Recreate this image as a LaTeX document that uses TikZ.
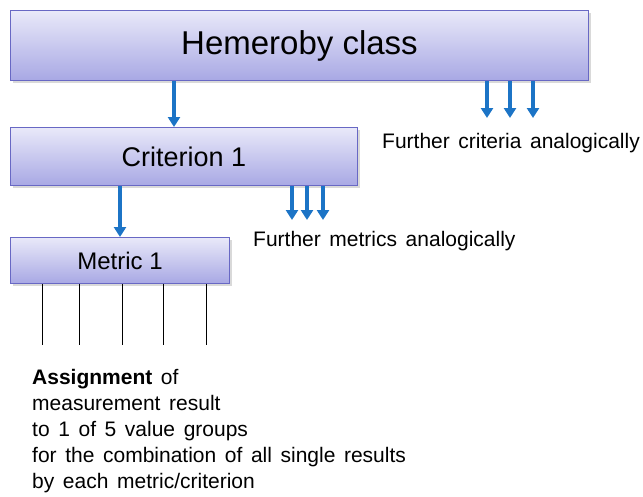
\documentclass[tikz,border=0pt]{standalone}
\usepackage{fontspec}
\setmainfont{Liberation Sans}
\usetikzlibrary{arrows.meta,shadows,positioning}
\definecolor{boxtop}{HTML}{E9E9F9}
\definecolor{boxbot}{HTML}{A8A8E4}
\definecolor{boxline}{HTML}{6868C4}
\definecolor{flowblue}{HTML}{1C74C6}
\newcommand\notefont{\fontsize{21}{26}\selectfont\spaceskip=8.6pt plus 1pt\relax}
\begin{document}
\begin{tikzpicture}[x=1pt, y=-1pt,
        level/.style={draw=boxline, line width=1pt, top color=boxtop, bottom color=boxbot,
            inner sep=0pt, anchor=north west,
            drop shadow={shadow xshift=2pt, shadow yshift=-2pt, opacity=0.3}},
        flow/.style={-{Triangle[width=12pt,length=10pt]}, draw=flowblue, line width=3.6pt},
        note/.style={inner sep=0pt, anchor=base west, font=\notefont}]
        \useasboundingbox (0,0) rectangle (643,496);
        % Nodes
        \node[level, minimum width=578pt, minimum height=70pt, font=\fontsize{33}{38}\selectfont] (hem) at (10,10) {Hemeroby class};
        \node[level, minimum width=347pt, minimum height=58pt, font=\fontsize{27}{32}\selectfont] (crit) at (10,127) {Criterion 1};
        \node[level, minimum width=219pt, minimum height=46pt, font=\fontsize{24}{28}\selectfont] (met) at (10,237) {Metric 1};
        \node[note] (fcrit) at (382,148) {Further criteria analogically};
        \node[note] (fmet) at (253,246) {Further metrics analogically};
        \node[note, anchor=north west, align=left] (assign) at (32,369) {\textbf{Assignment} of\\measurement result\\to 1 of 5 value groups\\for the combination of all single results\\by each metric/criterion};
        \coordinate (fcend) at (0,118);
        \coordinate (fmend) at (0,220);
        \coordinate (tick) at (0,345);
        
        % Arrows
        \draw[flow] ([xshift=164pt]hem.south west) -- ([xshift=164pt]crit.north west);
        \draw[flow] ([xshift=110pt]crit.south west) -- ([xshift=110pt]met.north west);
        \foreach \x in {487,510,533}
            \draw[flow] (hem.south -| \x,0) -- (fcend -| \x,0);
        \foreach \x in {292,307,323}
            \draw[flow] (crit.south -| \x,0) -- (fmend -| \x,0);
        \foreach \x in {42,79,122,163,206}
            \draw[line width=1pt] (met.south -| \x,0) -- (tick -| \x,0);
    \end{tikzpicture}
\end{document}
